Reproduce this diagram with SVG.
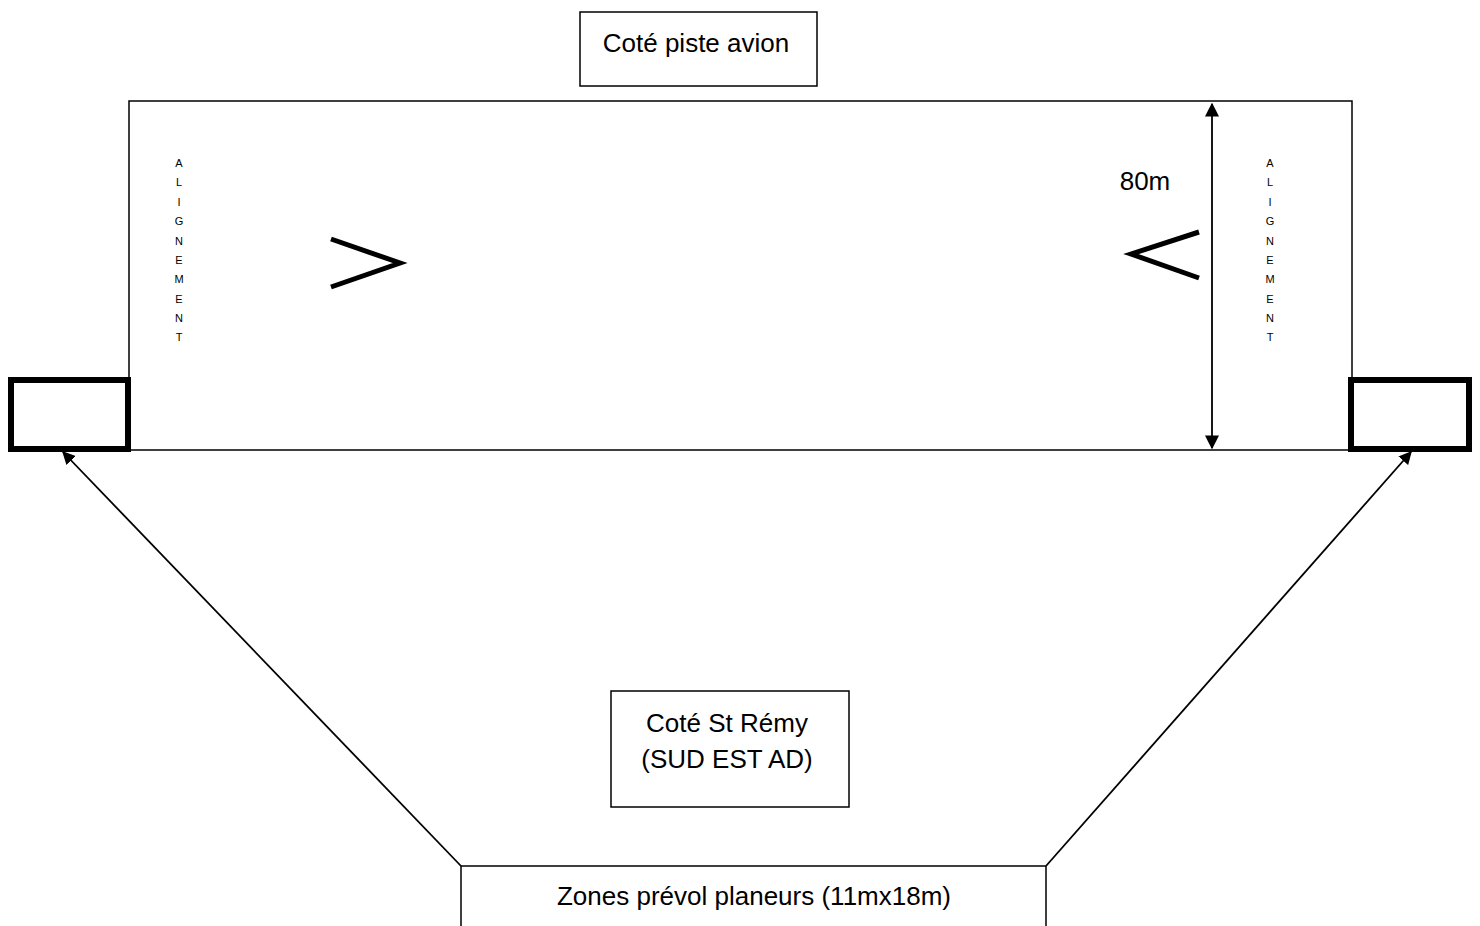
<svg xmlns="http://www.w3.org/2000/svg" width="1480" height="926" viewBox="0 0 1480 926">
<style>
.box{fill:#fff;stroke:#000;stroke-width:1.5}
.thick{fill:#fff;stroke:#000;stroke-width:6}
.t{font-family:"Liberation Sans",Arial,sans-serif;fill:#000;text-anchor:middle}
.lbl{font-size:26px}
.al{font-size:11px}
.conn{stroke:#000;stroke-width:1.8;fill:none}
.chev{stroke:#000;stroke-width:5;fill:none;stroke-linecap:butt;stroke-linejoin:miter}
</style>
<defs>
<marker id="ah2" viewBox="0 0 10 10" refX="9" refY="5" markerWidth="13" markerHeight="13" orient="auto" markerUnits="userSpaceOnUse">
<path d="M0,0 L10,5 L0,10 z" fill="#000"/>
</marker>
<marker id="ah3" viewBox="0 0 10 10" refX="9" refY="5" markerWidth="14" markerHeight="14" orient="auto-start-reverse" markerUnits="userSpaceOnUse">
<path d="M0,0 L10,5 L0,10 z" fill="#000"/>
</marker>
</defs>
<rect width="1480" height="926" fill="#fff"/>

<g id="piste">
<rect class="box" x="129" y="101" width="1223" height="349"/>
</g>

<g id="cote-piste-avion">
<rect class="box" x="580" y="12" width="237" height="74"/>
<text class="t lbl" x="696" y="52">Coté piste avion</text>
</g>

<g id="alignement-gauche">
<text class="t al" x="179" y="167">A</text>
<text class="t al" x="179" y="186">L</text>
<text class="t al" x="179" y="206">I</text>
<text class="t al" x="179" y="225">G</text>
<text class="t al" x="179" y="245">N</text>
<text class="t al" x="179" y="264">E</text>
<text class="t al" x="179" y="283">M</text>
<text class="t al" x="179" y="303">E</text>
<text class="t al" x="179" y="322">N</text>
<text class="t al" x="179" y="341">T</text>
</g>

<g id="alignement-droite">
<text class="t al" x="1270" y="167">A</text>
<text class="t al" x="1270" y="186">L</text>
<text class="t al" x="1270" y="206">I</text>
<text class="t al" x="1270" y="225">G</text>
<text class="t al" x="1270" y="245">N</text>
<text class="t al" x="1270" y="264">E</text>
<text class="t al" x="1270" y="283">M</text>
<text class="t al" x="1270" y="303">E</text>
<text class="t al" x="1270" y="322">N</text>
<text class="t al" x="1270" y="341">T</text>
</g>

<g id="chevron-droite">
<polyline class="chev" points="331,239 400,263 331,287"/>
</g>
<g id="chevron-gauche">
<polyline class="chev" points="1199,232 1131,254 1199,278"/>
</g>

<g id="cote-80m">
<text class="t" x="1145" y="190" font-size="26">80m</text>
</g>

<g id="zone-gauche">
<rect class="thick" x="11" y="380" width="117" height="69"/>
</g>
<g id="zone-droite">
<rect class="thick" x="1351" y="380" width="118" height="69"/>
</g>

<g id="cote-st-remy">
<rect class="box" x="611" y="691" width="238" height="116"/>
<text class="t lbl" x="727" y="732">Coté St Rémy</text>
<text class="t lbl" x="727" y="768">(SUD EST AD)</text>
</g>

<g id="zones-prevol">
<path class="box" d="M461,926 V866 H1046 V926"/>
<text class="t lbl" x="754" y="905">Zones prévol planeurs (11mx18m)</text>
</g>

<g id="connecteurs">
<line class="conn" x1="461" y1="866" x2="63" y2="452" marker-end="url(#ah2)"/>
<line class="conn" x1="1046" y1="866" x2="1411" y2="452" marker-end="url(#ah2)"/>
<line class="conn" x1="1212" y1="104" x2="1212" y2="448" stroke-width="2.2" marker-start="url(#ah3)" marker-end="url(#ah3)"/>
</g>
</svg>
